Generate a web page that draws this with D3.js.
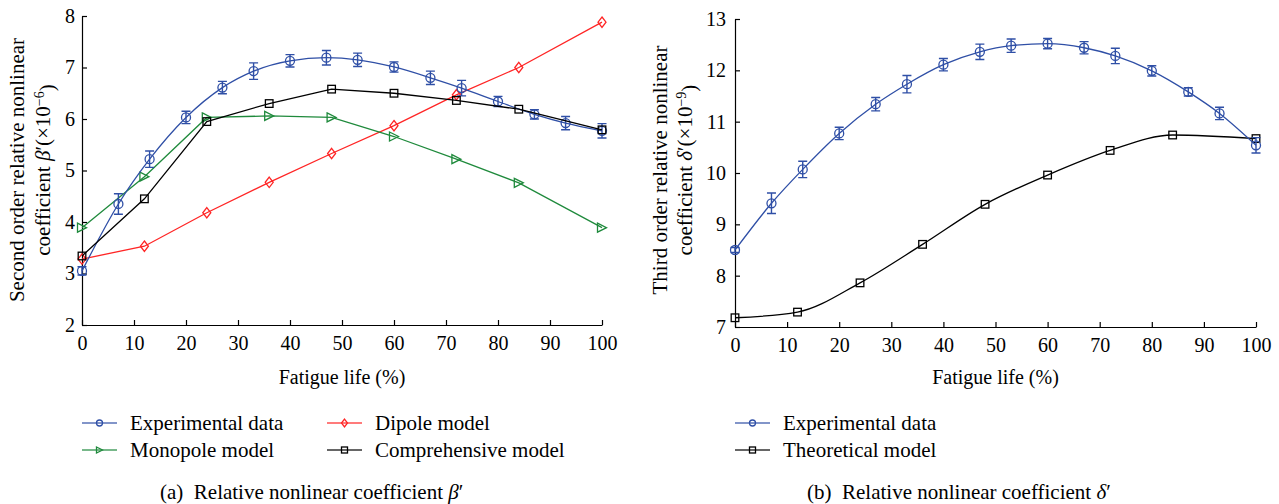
<!DOCTYPE html>
<html>
<head>
<meta charset="utf-8">
<script src="https://cdn.jsdelivr.net/npm/d3@7"></script>
<style>
  body { margin: 0; background: #fff; }
  svg text { font-family: "Liberation Serif", "DejaVu Serif", serif; fill: #000; }
  .axis path, .axis line { stroke: #000; stroke-width: 1.2; }
</style>
</head>
<body>
<svg id="fig" width="1279" height="504"></svg>
<script>
// fatigue life positions (%)
var xExp   = [0, 7, 13, 20, 27, 33, 40, 47, 53, 60, 67, 73, 80, 87, 93, 100];
var xModel = [0, 12, 24, 36, 48, 60, 72, 84, 100];

// panel (a): beta' (x1e-6)
var expA     = [3.05, 4.35, 5.22, 6.03, 6.61, 6.93, 7.13, 7.19, 7.15, 7.01, 6.80, 6.60, 6.34, 6.09, 5.92, 5.77];
var errA     = [0.08, 0.20, 0.16, 0.12, 0.12, 0.16, 0.12, 0.14, 0.13, 0.10, 0.13, 0.15, 0.10, 0.09, 0.13, 0.14];
var monoA    = [3.89, 4.88, 6.03, 6.06, 6.03, 5.66, 5.22, 4.76, 3.89];
var dipoleA  = [3.28, 3.53, 4.18, 4.77, 5.33, 5.87, 6.47, 7.00, 7.88];
var compA    = [3.34, 4.45, 5.95, 6.30, 6.58, 6.50, 6.36, 6.19, 5.79];

// panel (b): delta' (x1e-9)
var expB     = [8.50, 9.41, 10.07, 10.77, 11.34, 11.73, 12.11, 12.36, 12.48, 12.52, 12.44, 12.28, 11.99, 11.58, 11.16, 10.54];
var errB     = [0.05, 0.20, 0.16, 0.12, 0.13, 0.17, 0.12, 0.15, 0.13, 0.10, 0.12, 0.15, 0.10, 0.08, 0.12, 0.15];
var theoB    = [7.18, 7.29, 7.86, 8.61, 9.39, 9.96, 10.44, 10.74, 10.67];

var xTicks  = [0, 10, 20, 30, 40, 50, 60, 70, 80, 90, 100];
var yTicksA = [2, 3, 4, 5, 6, 7, 8];
var yTicksB = [7, 8, 9, 10, 11, 12, 13];

var BLUE = "#2f4fa6", RED = "#ff2525", GREEN = "#1f8a3c", BLACK = "#000";
var SERIF = "'Liberation Serif', 'DejaVu Serif', serif";

var svg = d3.select("#fig");

function marker(g, shape, x, y, color, s) {
  if (shape == "circle") {
    g.append("circle").attr("cx", x).attr("cy", y).attr("r", s)
      .attr("fill", "none").attr("stroke", color).attr("stroke-width", 1.3);
  } else if (shape == "square") {
    g.append("rect").attr("x", x - s).attr("y", y - s).attr("width", 2*s).attr("height", 2*s)
      .attr("fill", "none").attr("stroke", color).attr("stroke-width", 1.3);
  } else if (shape == "diamond") {
    g.append("path").attr("d", "M" + x + "," + (y - s*1.3) + "L" + (x + s) + "," + y + "L" + x + "," + (y + s*1.3) + "L" + (x - s) + "," + y + "Z")
      .attr("fill", "none").attr("stroke", color).attr("stroke-width", 1.3);
  } else if (shape == "tri") {
    g.append("path").attr("d", "M" + (x - s) + "," + (y - s) + "L" + (x + s) + "," + y + "L" + (x - s) + "," + (y + s) + "Z")
      .attr("fill", "none").attr("stroke", color).attr("stroke-width", 1.3);
  }
}

function panel(opt) {
  var x = d3.scaleLinear().domain([0, 100]).range(opt.xr);
  var y = d3.scaleLinear().domain(opt.yd).range(opt.yr);
  var g = svg.append("g");

  // axes, ticks pointing inward
  var gx = g.append("g")
      .attr("class", "axis")
      .attr("transform", "translate(0," + opt.yr[0] + ")")
      .call(d3.axisBottom(x).tickValues(xTicks).tickFormat(d3.format("d"))
              .tickSizeInner(-5).tickSizeOuter(0).tickPadding(11));
  var gy = g.append("g")
      .attr("class", "axis")
      .attr("transform", "translate(" + opt.xr[0] + ",0)")
      .call(d3.axisLeft(y).tickValues(opt.yTicks).tickFormat(d3.format("d"))
              .tickSizeInner(-5).tickSizeOuter(0).tickPadding(opt.yPad));
  [gx, gy].forEach(function(a) {
    a.attr("font-family", null).attr("font-size", null);
    a.selectAll("text").style("font-family", SERIF).style("font-size", "20px");
  });

  // series
  opt.series.forEach(function(s) {
    var pts = s.xs.map(function(d, i) { return [x(d), y(s.ys[i])]; });
    g.append("path")
        .attr("d", d3.line().curve(s.curve || d3.curveLinear)(pts))
        .attr("fill", "none").attr("stroke", s.color).attr("stroke-width", 1.3);
    if (s.err) {
      s.xs.forEach(function(d, i) {
        var cx = x(d), y0 = y(s.ys[i] - s.err[i]), y1 = y(s.ys[i] + s.err[i]);
        g.append("path")
          .attr("d", "M" + cx + "," + y0 + "V" + y1 + "M" + (cx - 4.5) + "," + y0 + "H" + (cx + 4.5) + "M" + (cx - 4.5) + "," + y1 + "H" + (cx + 4.5))
          .attr("fill", "none").attr("stroke", s.color).attr("stroke-width", 1.4);
      });
    }
    pts.forEach(function(p) { marker(g, s.shape, p[0], p[1], s.color, s.size); });
  });

  // y label (two lines)
  var cy = opt.labelY;
  g.append("text")
      .attr("transform", "translate(" + opt.labelX[0] + "," + cy + ") rotate(-90)")
      .attr("text-anchor", "middle").attr("dy", "0.35em")
      .style("font-size", "21px")
      .text(opt.yLabel1);
  var t2 = g.append("text")
      .attr("transform", "translate(" + opt.labelX[1] + "," + cy + ") rotate(-90)")
      .attr("text-anchor", "middle").attr("dy", "0.35em")
      .style("font-size", "21px");
  t2.append("tspan").text("coefficient ");
  t2.append("tspan").style("font-style", "italic").text(opt.sym);
  t2.append("tspan").text("\u2032(\u00d710");
  t2.append("tspan").attr("dy", "-0.45em").style("font-size", "14px").text("\u2212" + opt.exp);
  t2.append("tspan").attr("dy", "0.45em").text(")");

  // x label
  g.append("text")
      .attr("x", (opt.xr[0] + opt.xr[1]) / 2).attr("y", 377).attr("dy", "0.35em")
      .attr("text-anchor", "middle").style("font-size", "20px")
      .text("Fatigue life (%)");

  // legend
  opt.legend.forEach(function(l) {
    var lg = g.append("g");
    lg.append("line").attr("x1", l.x).attr("x2", l.x + 35).attr("y1", l.y).attr("y2", l.y)
      .attr("stroke", l.color).attr("stroke-width", 1.4).attr("opacity", 0.8);
    marker(lg, l.shape, l.x + 17.5, l.y, l.color, 3);
    lg.append("text").attr("x", l.x + 48).attr("y", l.y).attr("dy", "0.35em")
      .style("font-size", "21px").text(l.label);
  });

  // caption
  var cap = g.append("text")
      .attr("x", opt.capX).attr("y", 492).attr("dy", "0.35em")
      .style("font-size", "21px");
  cap.append("tspan").text(opt.capTag + "\u2002Relative nonlinear coefficient ");
  cap.append("tspan").style("font-style", "italic").text(opt.sym);
  cap.append("tspan").text("\u2032");
}

panel({
  xr: [82, 602], yr: [325, 16], yd: [2, 8], yTicks: yTicksA, yPad: 7,
  labelX: [17, 43], labelY: 170,
  yLabel1: "Second order relative nonlinear", sym: "\u03b2", exp: "6",
  series: [
    {xs: xModel, ys: dipoleA, color: RED,   shape: "diamond", size: 4},
    {xs: xModel, ys: monoA,   color: GREEN, shape: "tri",     size: 4.5},
    {xs: xExp,   ys: expA,    color: BLUE,  shape: "circle",  size: 4.5, err: errA, curve: d3.curveMonotoneX},
    {xs: xModel, ys: compA,   color: BLACK, shape: "square",  size: 3.8}
  ],
  legend: [
    {x: 82,  y: 423, color: BLUE,  shape: "circle",  label: "Experimental data"},
    {x: 82,  y: 450, color: GREEN, shape: "tri",     label: "Monopole model"},
    {x: 327, y: 423, color: RED,   shape: "diamond", label: "Dipole model"},
    {x: 327, y: 450, color: BLACK, shape: "square",  label: "Comprehensive model"}
  ],
  capX: 160, capTag: "(a)"
});

panel({
  xr: [735, 1256], yr: [327, 19], yd: [7, 13], yTicks: yTicksB, yPad: 9,
  labelX: [660, 685], labelY: 170,
  yLabel1: "Third order relative nonlinear", sym: "\u03b4", exp: "9",
  series: [
    {xs: xModel, ys: theoB, color: BLACK, shape: "square", size: 3.8, curve: d3.curveMonotoneX},
    {xs: xExp,   ys: expB,  color: BLUE,  shape: "circle", size: 4.5, err: errB, curve: d3.curveMonotoneX}
  ],
  legend: [
    {x: 735, y: 423, color: BLUE,  shape: "circle", label: "Experimental data"},
    {x: 735, y: 450, color: BLACK, shape: "square", label: "Theoretical model"}
  ],
  capX: 807, capTag: "(b)"
});
</script>
</body>
</html>
